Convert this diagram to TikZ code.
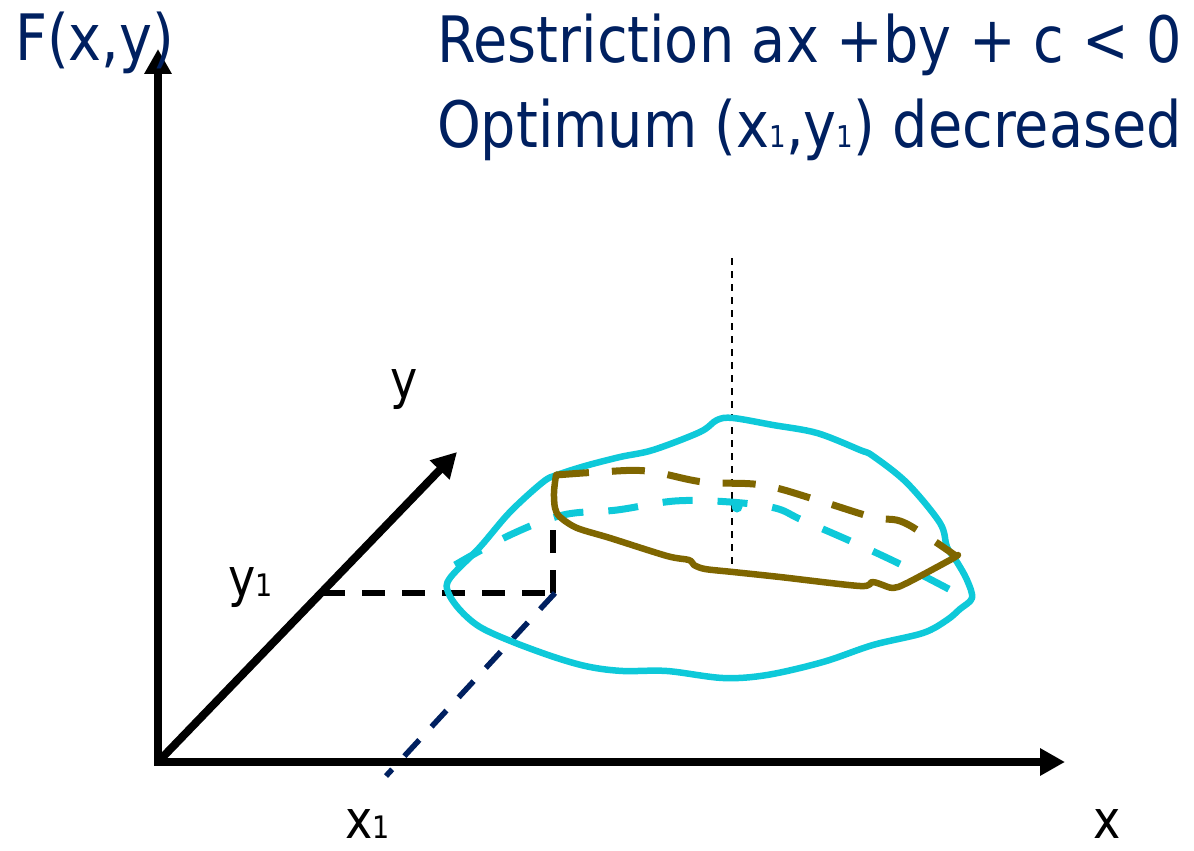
\documentclass[tikz,border=0pt]{standalone}
\usepackage{fontspec}
\setmainfont{DejaVu Sans}[FakeStretch=0.87]
\usetikzlibrary{arrows.meta}
\definecolor{navy}{RGB}{0,32,96}
\definecolor{cyanline}{RGB}{14,201,217}
\definecolor{oliveline}{RGB}{127,102,0}
\newcommand{\tsub}{{\fontsize{30}{30}\selectfont 1}}
\newcommand{\lsub}{{\fontsize{31}{31}\selectfont 1}}
\tikzset{
  axis/.style={line width=8pt, line join=miter, black},
  tiphead/.tip={Triangle[length=25pt,width=26pt]},
  title/.style={inner sep=0pt, text=navy, font=\fontsize{64}{70}\selectfont},
  lab/.style={inner sep=0pt, text=black, font=\fontsize{53}{60}\selectfont},
  blackdash/.style={line width=5.5pt, black, dash pattern=on 23pt off 17pt},
  navydash/.style={line width=5.5pt, navy, dash pattern=on 22pt off 18pt},
  outline/.style={line width=6.5pt, cyanline, line join=round, line cap=round},
  cyandash/.style={line width=7pt, cyanline, dash pattern=on 30pt off 25pt},
  olivedash/.style={line width=7pt, oliveline, dash pattern=on 33pt off 23pt},
  olivesolid/.style={line width=6.5pt, oliveline, line join=round, line cap=round},
  thindash/.style={line width=2pt, black, dash pattern=on 7pt off 6pt},
}
\begin{document}
\begin{tikzpicture}[x=1pt,y=-1pt]
\useasboundingbox (0,0) rectangle (1194,851);
% axes
\coordinate (O) at (158,762);
\coordinate (Ftip) at (158,49);
\coordinate (Xtip) at (1065,762);
\coordinate (Ytip) at (457,452);
\draw[axis, tiphead-tiphead] (Ftip) -- (O) -- (Xtip);
\draw[axis, -tiphead] (O) -- (Ytip);
% labels
\node[title, anchor=base west] (F) at (15,60) {F(x,y)};
\node[title, anchor=base east] (t1) at (1182,63) {Restriction ax +by + c < 0};
\node[title, anchor=base east] (t2) at (1182,147) {Optimum (x\tsub,y\tsub) decreased};
\node[lab, anchor=base west] (ylab) at (390,398) {y};
\node[lab, anchor=base west] (y1lab) at (228,596) {y\lsub};
\node[lab, anchor=base west] (x1lab) at (345,838) {x\lsub};
\node[lab, anchor=base west] (xlab) at (1093,838) {x};
% projection lines
\coordinate (Ymark) at (322,593);
\coordinate (P) at (553,593);
\coordinate (Ptop) at (553,517);
\coordinate (Xend) at (386,776);
\draw[blackdash] (Ymark) -- (P);
\draw[blackdash] (P) -- (Ptop);
\draw[navydash] (555,593) -- (Xend);
% vertical thin dashed
\coordinate (Vtop) at (732,258);
\coordinate (Vbot) at (732,573);
\draw[thindash] (Vtop) -- (Vbot);
% cyan outline
\draw[outline] plot[smooth cycle, tension=0.55] coordinates {
 (450,578) (480,547) (510,512) (543,482) (557,475) (585,466) (620,457) (653,450)
 (700,432) (717,420) (733,418) (773,425) (817,433) (860,450) (873,456) (907,483)
 (940,523) (947,547) (957,562) (967,580) (972,598) (960,609) (947,620) (923,633)
 (873,645) (823,662) (767,675) (723,678) (667,671) (623,671) (590,667) (557,658)
 (513,642) (480,627) (460,610) (448,592)};
% cyan dashed back curve
\draw[cyandash] plot[smooth, tension=0.6] coordinates {
 (455,565) (510,535) (563,515) (617,510) (675,501) (730,502) (775,508) (802,520)
 (857,544) (908,568) (962,596)};
\fill[cyanline] (737,507) circle (5.5pt);
% olive dashed
\draw[olivedash] plot[smooth, tension=0.6] coordinates {
 (556,475) (600,472) (647,471) (703,482) (762,485) (817,500) (872,517) (900,521)
 (925,535) (956,556)};
% olive solid
\draw[olivesolid] plot[smooth, tension=0.5] coordinates {
 (556,475) (554,492) (555,508) (560,517) (577,528) (610,538) (667,556) (689,560)
 (694,565) (705,569) (733,572) (780,577) (860,586) (872,582) (880,584) (893,588)
 (907,583) (950,560) (958,555)};
\end{tikzpicture}
\end{document}
